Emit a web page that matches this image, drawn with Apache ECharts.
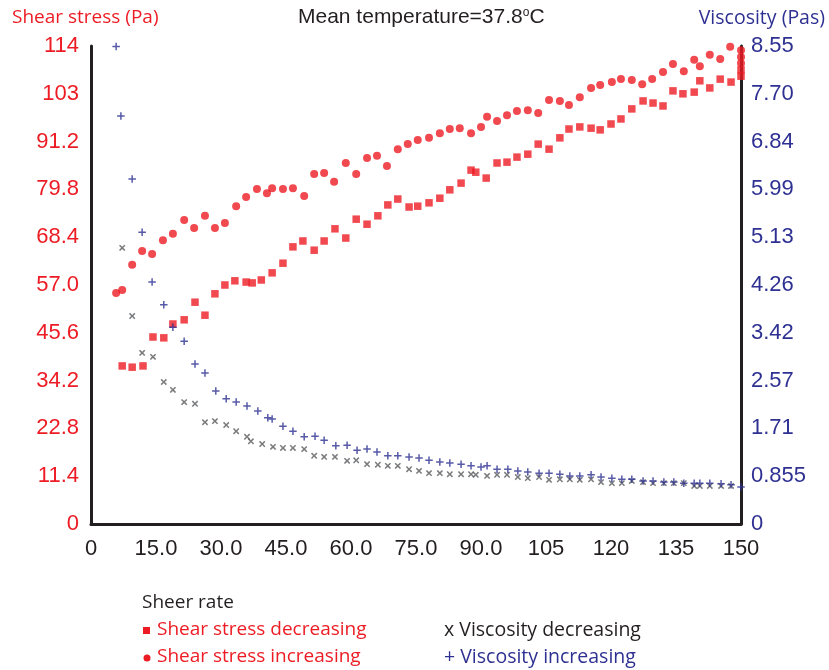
<!DOCTYPE html>
<html><head><meta charset="utf-8">
<script src="https://cdn.jsdelivr.net/npm/echarts@6/dist/echarts.min.js"></script>
<style>html,body{margin:0;padding:0;background:#fff}#c{width:829px;height:670px}</style>
</head><body><div id="c"></div>
<script>
// Shear rate positions (1/s)
var incX = [5.8,7.2,9.5,11.8,14.1,16.6,18.9,21.5,23.8,26.3,28.6,30.9,33.5,35.8,38.3,40.6,41.8,44.3,46.6,49.2,51.5,53.8,56.1,58.8,61.2,63.7,66.0,68.3,70.8,73.1,75.4,78.0,80.5,82.8,85.1,87.7,90.0,91.4,93.7,96.0,98.3,100.8,103.2,105.7,108.2,110.3,112.8,115.4,117.5,120.2,122.3,124.8,127.2,129.5,132.0,134.3,136.8,139.2,140.5,142.8,145.2,147.5,150.0,150.0,150.0];
var stressInc = [55.1,55.8,61.8,65.1,64.4,67.7,69.2,72.5,70.6,73.5,70.6,71.8,75.8,78.0,79.9,78.9,80.1,79.9,80.1,78.2,83.5,83.7,81.6,86.1,83.5,87.3,87.8,85.4,89.4,90.6,91.6,92.1,93.2,94.2,94.4,93.2,94.7,97.1,96.1,97.5,98.5,98.7,98.0,101.1,100.9,99.9,101.8,104.0,104.7,105.4,106.1,105.9,104.9,106.1,107.8,109.7,108.0,110.7,109.2,111.9,110.9,113.8,113.0,111.4,109.9];

var decX = [7.2,9.5,12.0,14.3,16.8,18.9,21.5,24.0,26.3,28.6,30.9,33.2,35.8,37.2,39.3,41.8,44.3,46.6,48.9,51.5,53.8,56.3,58.8,61.2,63.7,66.2,68.5,70.8,73.4,75.4,78.0,80.5,82.8,85.4,87.7,88.8,91.2,93.7,96.0,98.3,100.8,103.2,105.7,108.2,110.3,112.8,115.4,117.5,120.0,122.3,124.8,127.4,129.7,132.0,134.3,136.6,139.2,140.5,142.8,145.2,147.7,150.0,150.0];
var stressDec = [37.7,37.4,37.7,44.6,44.4,47.7,48.7,52.9,49.8,54.9,57.0,58.0,57.7,57.5,58.2,59.9,62.2,66.1,67.5,65.3,67.5,70.4,68.2,72.7,71.5,73.5,76.1,77.5,75.6,75.8,76.6,77.7,79.7,81.3,84.4,83.9,82.5,86.1,86.3,87.5,88.2,90.6,89.4,92.1,94.2,94.7,94.4,94.0,95.4,96.6,99.0,100.9,100.4,99.7,103.3,102.6,103.0,105.7,104.0,106.1,105.4,108.3,106.8];

var viscIncX = [5.8,6.9,9.5,11.8,14.1,16.8,18.9,21.5,24.0,26.3,28.8,31.2,33.5,36.0,38.5,40.8,41.8,44.3,46.6,49.2,51.7,53.8,56.5,59.1,61.4,63.7,66.0,68.5,70.8,73.4,75.7,78.0,80.5,82.8,85.4,87.7,90.0,91.4,93.7,96.2,98.5,100.8,103.4,105.7,108.2,110.5,112.8,115.4,117.7,120.2,122.5,124.8,127.4,129.7,132.2,134.5,136.8,139.2,140.5,142.8,145.4,147.7,150.0];
var viscInc = [8.54,7.30,6.17,5.22,4.33,3.92,3.52,3.27,2.86,2.70,2.38,2.24,2.18,2.11,2.02,1.90,1.88,1.75,1.66,1.56,1.57,1.50,1.40,1.41,1.32,1.34,1.29,1.22,1.22,1.20,1.18,1.14,1.11,1.09,1.07,1.04,1.02,1.04,0.98,0.98,0.95,0.93,0.91,0.91,0.89,0.86,0.86,0.88,0.84,0.82,0.80,0.80,0.77,0.77,0.75,0.75,0.73,0.73,0.73,0.73,0.72,0.70,0.66];

var viscDecX = [7.2,9.5,11.8,14.3,16.8,18.9,21.5,24.0,26.3,28.6,31.2,33.5,36.0,36.9,39.5,42.0,44.3,46.6,49.2,51.5,53.8,56.3,59.1,61.2,63.7,66.2,68.5,70.8,73.4,75.7,78.0,80.5,82.8,85.4,87.7,88.8,91.4,93.7,96.0,98.5,100.8,103.4,105.7,108.2,110.5,112.8,115.4,117.7,120.2,122.5,124.8,127.4,129.7,132.2,134.5,136.8,139.2,140.5,142.8,145.4,147.7];
var viscDec = [4.94,3.72,3.06,2.99,2.54,2.40,2.18,2.15,1.82,1.84,1.77,1.66,1.56,1.48,1.43,1.38,1.36,1.36,1.34,1.22,1.20,1.20,1.13,1.14,1.07,1.06,1.04,1.04,0.98,0.95,0.91,0.91,0.89,0.89,0.89,0.88,0.86,0.88,0.88,0.84,0.82,0.84,0.79,0.80,0.80,0.79,0.80,0.75,0.73,0.73,0.77,0.75,0.73,0.73,0.73,0.73,0.68,0.68,0.68,0.68,0.68];

var xTickLabels = ['0','15.0','30.0','45.0','60.0','75.0','90.0','105','120','135','150'];
var leftTickLabels = ['0','11.4','22.8','34.2','45.6','57.0','68.4','79.8','91.2','103','114'];
var rightTickLabels = ['0','0.855','1.71','2.57','3.42','4.26','5.13','5.99','6.84','7.70','8.55'];

function zip(a,b){var r=[];for(var i=0;i<Math.min(a.length,b.length);i++)r.push([a[i],b[i]]);return r;}

var RED='#ed1c24', BLUE='#2e3192', GREY='#58595b', AX='#231f20';
var numFont = "Liberation Sans";
var txtFont = "'Open Sans',sans-serif";
var plus = 'path://M4,0h2v4h4v2h-4v4h-2v-4h-4v-2h4z';

var chart = echarts.init(document.getElementById('c'), null, {renderer:'canvas'});
chart.setOption({
  animation:false,
  grid:{left:91,right:88,top:46,bottom:146},
  xAxis:{type:'value',min:0,max:150,interval:15,
    axisLine:{show:true,lineStyle:{color:AX,width:3}},
    axisTick:{show:false},splitLine:{show:false},
    axisLabel:{color:'#231f20',fontSize:22,fontFamily:numFont,margin:14,
      formatter:function(v){return xTickLabels[Math.round(v/15)];}}
  },
  yAxis:[
    {type:'value',min:0,max:114,interval:11.4,position:'left',
      axisLine:{show:true,lineStyle:{color:AX,width:3}},
      axisTick:{show:false},splitLine:{show:false},
      axisLabel:{color:RED,fontSize:22,fontFamily:numFont,margin:12,
        formatter:function(v){return leftTickLabels[Math.round(v/11.4)];}}
    },
    {type:'value',min:0,max:8.55,interval:0.855,position:'right',
      axisLine:{show:true,lineStyle:{color:AX,width:3}},
      axisTick:{show:false},splitLine:{show:false},
      axisLabel:{color:BLUE,fontSize:22,fontFamily:numFont,margin:10,
        formatter:function(v){return rightTickLabels[Math.round(v/0.855)];}}
    }
  ],
  series:[
    {type:'scatter',name:'Shear stress decreasing',yAxisIndex:0,symbol:'rect',symbolSize:7.5,
      itemStyle:{color:RED},data:zip(decX,stressDec),clip:false},
    {type:'scatter',name:'Shear stress increasing',yAxisIndex:0,symbol:'circle',symbolSize:8,
      itemStyle:{color:RED},data:zip(incX,stressInc),clip:false},
    {type:'scatter',name:'Viscosity decreasing',yAxisIndex:1,symbol:plus,symbolSize:7.5,symbolRotate:45,
      itemStyle:{color:GREY},data:zip(viscDecX,viscDec),clip:false},
    {type:'scatter',name:'Viscosity increasing',yAxisIndex:1,symbol:plus,symbolSize:7.5,
      itemStyle:{color:BLUE},data:zip(viscIncX,viscInc),clip:false}
  ],
  graphic:[
    {type:'text',left:12,top:8,style:{text:'Shear stress (Pa)',fill:RED,font:"19px "+txtFont}},
    {type:'text',right:4,top:8,style:{text:'Viscosity (Pas)',fill:BLUE,font:"19.5px "+txtFont}},
    {type:'text',left:298,top:7,style:{
      text:'Mean temperature=37.8{s|o}C',fill:'#231f20',font:"21px 'Liberation Sans',Arial,sans-serif",
      rich:{s:{fontSize:12,verticalAlign:'top',padding:[0,0,9,0],fill:'#231f20',fontFamily:"'Liberation Sans',Arial,sans-serif"}}}},
    {type:'text',left:142,top:593,style:{text:'Sheer rate',fill:'#231f20',font:"19px "+txtFont}},
    {type:'rect',shape:{x:143,y:627,width:7,height:7},style:{fill:RED}},
    {type:'text',left:157,top:620,style:{text:'Shear stress decreasing',fill:RED,font:"19px "+txtFont}},
    {type:'circle',shape:{cx:147,cy:658,r:3.5},style:{fill:RED}},
    {type:'text',left:157,top:647,style:{text:'Shear stress increasing',fill:RED,font:"19px "+txtFont}},
    {type:'text',left:444,top:620,style:{text:'x Viscosity decreasing',fill:'#231f20',font:"19.5px "+txtFont}},
    {type:'text',left:444,top:647,style:{text:'+ Viscosity increasing',fill:BLUE,font:"19.5px "+txtFont}}
  ]
});
</script></body></html>
